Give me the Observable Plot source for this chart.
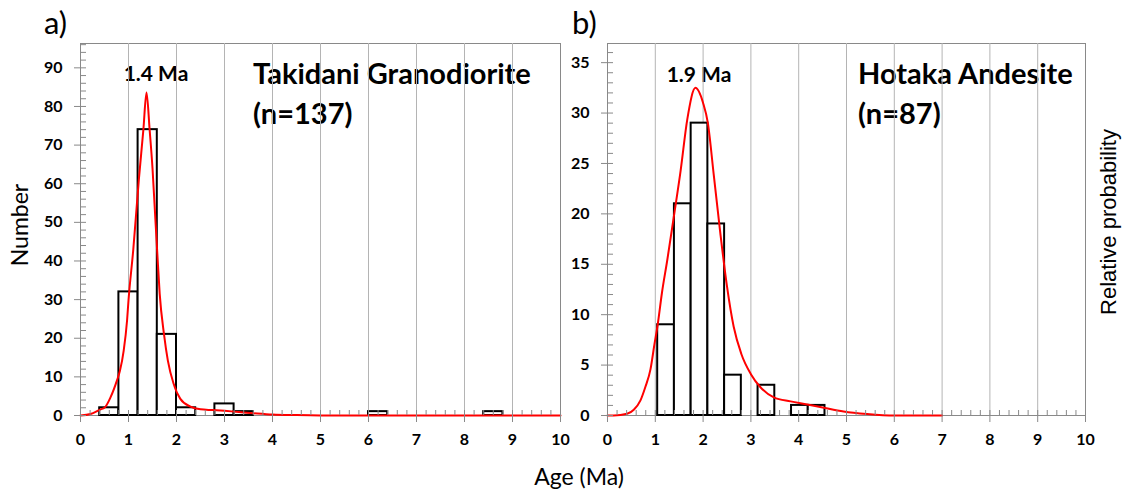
<!DOCTYPE html>
<html><head><meta charset="utf-8">
<script src="https://cdn.jsdelivr.net/npm/d3@7"></script>
<script src="https://cdn.jsdelivr.net/npm/@observablehq/plot@0.6"></script>
<style>
html,body{margin:0;padding:0;background:#fff;}
#wrap{position:relative;width:1128px;height:495px;overflow:hidden;background:#fff;}
#wrap > svg{position:absolute;top:0;}
</style></head><body><div id="wrap"></div>
<script>
// ---- data ----
const ageTicks = [0, 1, 2, 3, 4, 5, 6, 7, 8, 9, 10];
const ageMinorTicks = d3.range(0, 51).map(i => i / 5);
const takidaniCountTicks = [0, 10, 20, 30, 40, 50, 60, 70, 80, 90];
const takidaniMinorTicks = d3.range(0, 49).map(i => i * 2);
const hotakaCountTicks = [0, 5, 10, 15, 20, 25, 30, 35];
const hotakaMinorTicks = d3.range(0, 37);

const takidaniBinStart = [0.4, 0.8, 1.2, 1.6, 2.0, 2.8, 3.2, 6.0, 8.4];
const takidaniBinEnd   = [0.8, 1.2, 1.6, 2.0, 2.4, 3.2, 3.6, 6.4, 8.8];
const takidaniCounts   = [2, 32, 74, 21, 2, 3, 1, 1, 1];

const hotakaBinStart = [1.05, 1.40, 1.75, 2.10, 2.45, 3.15, 3.85, 4.20];
const hotakaBinEnd   = [1.40, 1.75, 2.10, 2.45, 2.80, 3.50, 4.20, 4.55];
const hotakaCounts   = [9, 21, 29, 19, 4, 3, 1, 1];

// probability density curves (in count units)
const takidaniCurveAge  = [0, 0.21, 0.42, 0.5, 0.625, 0.76, 0.82, 0.9, 0.97, 1.0, 1.1, 1.215, 1.31, 1.375, 1.44, 1.5, 1.55, 1.6, 1.65, 1.74, 1.82, 1.94, 2.08, 2.29, 2.5, 2.75, 3.0, 3.3, 3.6, 4.0, 4.5, 5.0, 6, 7, 8, 9, 10];
const takidaniCurveProb = [0, 0.4, 1.6, 2.0, 4.7, 9.1, 11.5, 16.8, 24.6, 29.8, 43, 61, 74, 83.6, 74, 64, 53, 42, 31.5, 21, 14.2, 8.2, 4.3, 2.3, 1.6, 1.4, 1.2, 0.9, 0.6, 0.25, 0.1, 0.02, 0, 0, 0, 0, 0];

const hotakaCurveAge  = [0, 0.13, 0.41, 0.55, 0.69, 0.79, 0.9, 0.98, 1.05, 1.14, 1.25, 1.39, 1.53, 1.67, 1.84, 2.0, 2.1, 2.22, 2.36, 2.5, 2.64, 2.8, 3.0, 3.2, 3.48, 3.83, 4.18, 4.5, 4.94, 5.43, 6.0, 7.0];
const hotakaCurveProb = [0, 0, 0.17, 0.57, 1.5, 2.8, 4.6, 7.0, 9.0, 12.2, 15.4, 19.8, 24.3, 29.4, 32.5, 31.0, 29.0, 24.0, 18.1, 12.8, 8.8, 6.1, 4.1, 2.8, 1.8, 1.4, 1.1, 0.8, 0.4, 0.15, 0, 0];

// ---- drawing ----
const wrap = document.getElementById("wrap");
const FONT = "Lato, 'Open Sans', sans-serif";
const AXIS = "#898989";

// annotation layer (below plots)
const ann = d3.create("svg").attr("width", 1128).attr("height", 495)
  .style("font-family", FONT).style("fill", "#000");
function txt(s, x, y, size, weight, anchor = "start", rot = 0, family = FONT) {
  ann.append("text").attr("transform", `translate(${x},${y}) rotate(${rot})`)
    .attr("text-anchor", anchor).style("font-size", size + "px").style("font-weight", weight)
    .style("font-family", family).text(s);
}
txt("a)", 44, 34, 31, 400);
txt("b)", 572, 34, 31, 400);
txt("Takidani Granodiorite", 253, 84, 29, 700);
txt("(n=137)", 253, 124, 29, 700);
txt("Hotaka Andesite", 858, 84, 29, 700);
txt("(n=87)", 858, 124, 29, 700);
txt("1.4 Ma", 156, 81, 21, 700, "middle");
txt("1.9 Ma", 699, 81.5, 21, 700, "middle");
txt("Number", 28, 225, 23, 400, "middle", -90);
txt("Relative probability", 1116, 222, 22, 400, "middle", -90, "'Liberation Sans', Arial, sans-serif");
txt("Age (Ma)", 579, 485, 23, 400, "middle");
wrap.appendChild(ann.node());

function panel({left, width, marginLeft, marginRight, yMax, yMajor, yMinor, starts, ends, counts, cAge, cProb}) {
  const bars = counts.map((n, i) => ({x1: starts[i], x2: ends[i], n}));
  const curve = cAge.map((a, i) => ({age: a, p: cProb[i]}));
  const common = {stroke: AXIS, fill: "black", label: null};
  const svg = Plot.plot({
    width, height: 495,
    marginTop: 43, marginBottom: 80, marginLeft, marginRight,
    x: {domain: [0, 10]},
    y: {domain: [0, yMax]},
    style: {fontFamily: FONT, fontSize: "16px", fontWeight: "bold", color: "black", background: "transparent", overflow: "visible"},
    marks: [
      Plot.frame({stroke: AXIS}),
      Plot.ruleX(ageTicks.filter(v => v > 0 && v < 10), {stroke: "#b4b4b4"}),
      Plot.rect(bars, {x1: "x1", x2: "x2", y1: 0, y2: "n", fill: "white", stroke: "black", strokeWidth: 2}),
      Plot.line(curve, {x: "age", y: "p", stroke: "#ff0000", strokeWidth: 2, curve: "monotone-x"}),
      Plot.axisX({...common, ticks: ageTicks, tickSize: 7, tickPadding: 11, tickFormat: d => String(d)}),
      Plot.axisX({...common, ticks: ageMinorTicks, tickSize: 5, dy: -5, tickFormat: () => ""}),
      Plot.axisY({...common, ticks: yMajor, tickSize: 6, tickPadding: 12, tickFormat: d => String(d)}),
      Plot.axisY({...common, ticks: yMinor, tickSize: 6, dx: 6, tickFormat: () => ""})
    ]
  });
  svg.style.left = left + "px";
  svg.style.position = "absolute";
  svg.style.top = "0px";
  wrap.appendChild(svg);
}

panel({left: 0, width: 575, marginLeft: 80, marginRight: 15, yMax: 96.3,
  yMajor: takidaniCountTicks, yMinor: takidaniMinorTicks,
  starts: takidaniBinStart, ends: takidaniBinEnd, counts: takidaniCounts,
  cAge: takidaniCurveAge, cProb: takidaniCurveProb});

panel({left: 575, width: 553, marginLeft: 32, marginRight: 43, yMax: 36.9,
  yMajor: hotakaCountTicks, yMinor: hotakaMinorTicks,
  starts: hotakaBinStart, ends: hotakaBinEnd, counts: hotakaCounts,
  cAge: hotakaCurveAge, cProb: hotakaCurveProb});
</script></body></html>
